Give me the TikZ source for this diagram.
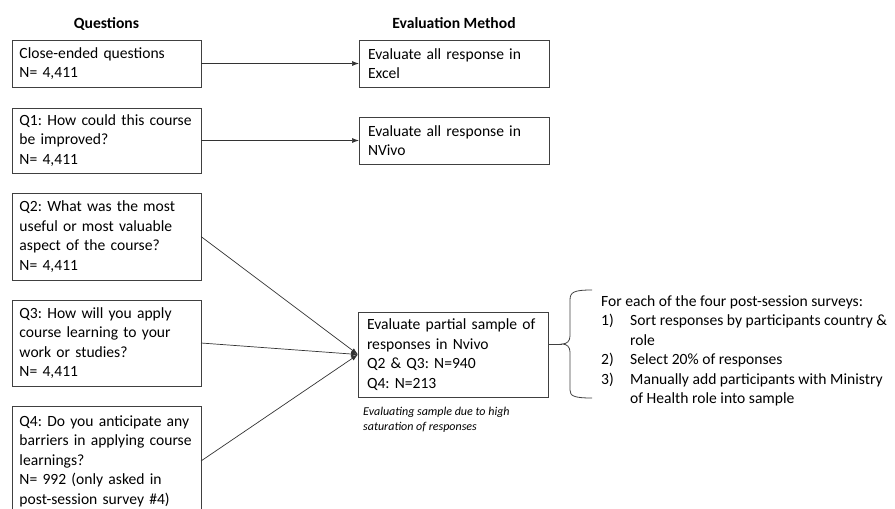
\documentclass[tikz,border=0pt]{standalone}
\usepackage{fontspec}
\setmainfont{Carlito}
\usepackage{tikz}
\usetikzlibrary{arrows.meta,positioning,calc}
\newcommand{\boxfont}{\fontsize{15.6pt}{19.5pt}\selectfont\frenchspacing}
\newcommand{\notefont}{\fontsize{12pt}{15pt}\selectfont\itshape}

\begin{document}
\begin{tikzpicture}[x=1pt, y=-1pt,
  qbox/.style={draw=black!75, line width=0.9pt, outer sep=0pt, align=left, text width=174pt, inner xsep=7.5pt, inner ysep=0pt, font=\boxfont},
  ebox/.style={qbox, text width=172pt, inner xsep=9pt},
  hdr/.style={font=\boxfont\bfseries, anchor=base},
  note/.style={font=\notefont, align=left, inner sep=0pt, anchor=north west},
  arr/.style={draw=black!80, line width=0.7pt, -{Latex[length=7pt,width=5pt]}},
  line/.style={draw=black!75, line width=0.8pt}
]
  \useasboundingbox (0,0) rectangle (895,509);
  \node[qbox, minimum height=47pt, anchor=north west] (qa) at (12,40) {Close-ended questions\\N= 4,411};
  \node[qbox, minimum height=65pt, below=21pt of qa] (qb) {Q1: How could this course\\be improved?\\N= 4,411};
  \node[qbox, minimum height=87pt, below=20pt of qb] (qc) {Q2: What was the most\\useful or most valuable\\aspect of the course?\\N= 4,411};
  \node[qbox, minimum height=86pt, below=20pt of qc] (qd) {Q3: How will you apply\\course learning to your\\work or studies?\\N= 4,411};
  \node[qbox, minimum height=110pt, below=20pt of qd] (qe) {Q4: Do you anticipate any\\barriers in applying course\\learnings?\\N= 992 (only asked in\\post-session survey \#4)};

  \node[ebox, minimum height=47pt, right=158pt of qa] (ea) {Evaluate all response in\\Excel};
  \node[ebox, minimum height=47pt, right=158pt of qb] (eb) {Evaluate all response in\\NVivo};
  \node[ebox, minimum height=85pt, anchor=north west] (ec) at (358,312) {Evaluate partial sample of\\responses in Nvivo\\Q2 \& Q3: N=940\\Q4: N=213};
  \node[note] (nt) at ([xshift=5pt,yshift=-10pt]ec.south west) {Evaluating sample due to high\\saturation of responses};

  \node[hdr] (hq) at (qa.north |- 0,28) {Questions};
  \node[hdr] (he) at (ea.north |- 0,28) {Evaluation Method};

  \node[font=\boxfont, align=left, inner sep=0pt, anchor=north west] (st) at (601,295) {For each of the four post-session surveys:\\
    \makebox[29pt][l]{1)}Sort responses by participants country \&\\
    \hspace*{29pt}role\\
    \makebox[29pt][l]{2)}Select 20\% of responses\\
    \makebox[29pt][l]{3)}Manually add participants with Ministry\\
    \hspace*{29pt}of Health role into sample};

  \draw[arr] (qa) -- (ea);
  \draw[arr] (qb) -- (eb);
  \draw[arr] (qc.east) -- (ec.west);
  \draw[arr] (qd.east) -- (ec.west);
  \draw[arr] (qe.east) -- (ec.west);

  \coordinate (brtip) at (562,344);
  \draw[line] (ec.east |- brtip) -- (brtip);
  \draw[line] (592,290) .. controls (574,290) and (570,292) .. (570,300) -- (570,336)
    .. controls (570,341) and (567,344) .. (brtip)
    .. controls (567,344) and (570,347) .. (570,352) -- (570,390)
    .. controls (570,396) and (574,398) .. (592,398);
\end{tikzpicture}
\end{document}
